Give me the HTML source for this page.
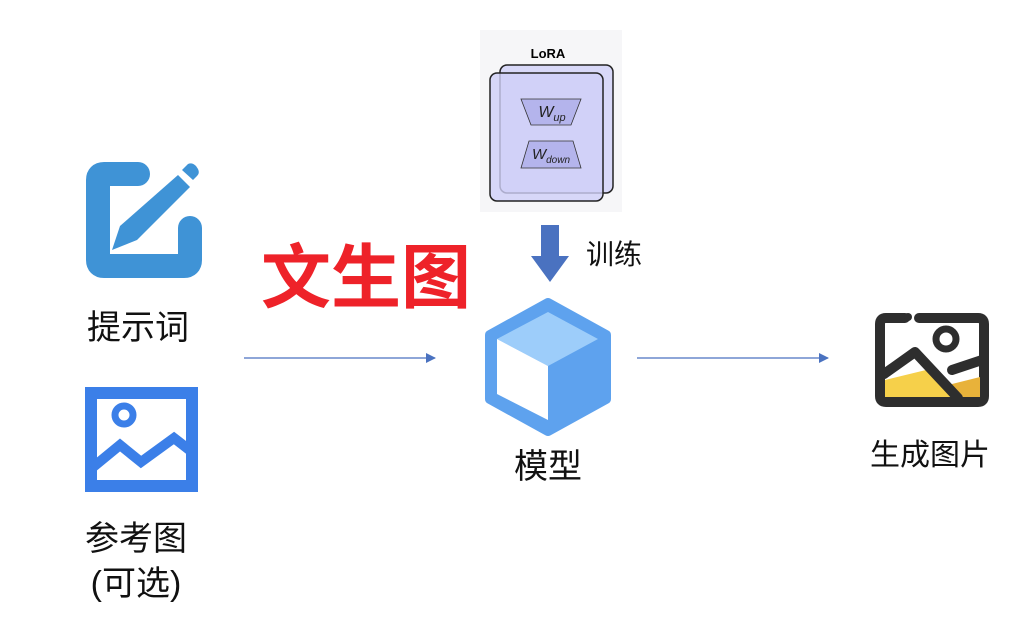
<!DOCTYPE html>
<html><head><meta charset="utf-8"><style>
html,body{margin:0;padding:0;background:#fff;width:1020px;height:625px;overflow:hidden}
svg text{font-family:"Liberation Sans","Noto Sans CJK SC",sans-serif}
</style></head><body>
<svg width="1020" height="625" viewBox="0 0 1020 625" xmlns="http://www.w3.org/2000/svg">
<defs>
<marker id="ah" markerWidth="10" markerHeight="10" refX="9" refY="5" orient="auto" markerUnits="userSpaceOnUse">
<path d="M0,0 L10,5 L0,10 Z" fill="#4a72c0"/></marker>
</defs>
<!-- pencil icon -->
<path d="M138,174 L104,174 Q98,174 98,180 L98,260 Q98,266 104,266 L184,266 Q190,266 190,260 L190,228" fill="none" stroke="#3f93d6" stroke-width="24" stroke-linecap="round" stroke-linejoin="round"/>
<path d="M178,175 L190,187 L137,240 L112,250 L120,226 Z" fill="#3f93d6"/>
<path d="M182,170 L188,164 Q192,162 196,166 L198,169 Q200,173 197,176 L193,180 Z" fill="#3f93d6"/>
<text x="138" y="339" font-size="34" text-anchor="middle" fill="#111">提示词</text>
<!-- image icon -->
<rect x="91" y="393" width="101" height="93" fill="none" stroke="#3b7fe8" stroke-width="12"/>
<circle cx="124" cy="415" r="9" fill="none" stroke="#3b7fe8" stroke-width="7"/>
<path d="M92,468 L120,445 L141,462 L174,438 L192,452" fill="none" stroke="#3b7fe8" stroke-width="10" stroke-linejoin="miter"/>
<text x="136" y="550" font-size="34" text-anchor="middle" fill="#111">参考图</text>
<text x="136" y="595" font-size="34" text-anchor="middle" fill="#111">(可选)</text>
<!-- 文生图 -->
<text x="366" y="302" font-size="70" font-weight="bold" text-anchor="middle" fill="#ee2229">文生图</text>
<!-- arrows -->
<line x1="244" y1="358" x2="435" y2="358" stroke="#4a72c0" stroke-width="1.3" marker-end="url(#ah)"/>
<line x1="637" y1="358" x2="828" y2="358" stroke="#4a72c0" stroke-width="1.3" marker-end="url(#ah)"/>
<!-- LoRA -->
<rect x="480" y="30" width="142" height="182" fill="#f6f6f8"/>
<text x="548" y="58" font-size="13" font-weight="bold" text-anchor="middle" fill="#000">LoRA</text>
<rect x="500" y="65" width="113" height="128" rx="7" fill="#d8d8f8" stroke="#222" stroke-width="1.5"/>
<rect x="490" y="73" width="113" height="128" rx="7" fill="#d0d0f8" fill-opacity="0.8" stroke="#222" stroke-width="1.5"/>
<path d="M521,99 L581,99 L571,125 L531,125 Z" fill="#b4b4ec" stroke="#333" stroke-width="0.8"/>
<text x="552" y="117" font-size="16" font-style="italic" text-anchor="middle" fill="#222" font-family="Liberation Serif,serif">W<tspan font-size="11" dy="4">up</tspan></text>
<path d="M529,141 L573,141 L581,168 L521,168 Z" fill="#b4b4ec" stroke="#333" stroke-width="0.8"/>
<text x="551" y="159" font-size="15" font-style="italic" text-anchor="middle" fill="#222" font-family="Liberation Serif,serif">W<tspan font-size="10" dy="4">down</tspan></text>
<!-- down arrow -->
<path d="M541,225 L559,225 L559,256 L569,256 L550,282 L531,256 L541,256 Z" fill="#4a72c0"/>
<text x="586" y="264" font-size="28" fill="#111">训练</text>
<!-- cube -->
<path d="M548,303 L606,335 L606,399 L548,431 L490,399 L490,335 Z" fill="#5ea2ee" stroke="#5ea2ee" stroke-width="10" stroke-linejoin="round"/>
<path d="M497,339 L548,312 L598,339 L548,366 Z" fill="#9dcdfa"/>
<path d="M497,339 L548,366 L548,420 L497,394 Z" fill="#fff"/>
<text x="548" y="478" font-size="34" text-anchor="middle" fill="#111">模型</text>
<!-- output image icon -->
<path d="M905,318 L886,318 Q880,318 880,324 L880,396 Q880,402 886,402 L978,402 Q984,402 984,396 L984,324 Q984,318 978,318 L919,318" fill="none" stroke="#2e2e2e" stroke-width="10" stroke-linecap="round"/>
<circle cx="908" cy="317" r="4" fill="#2e2e2e"/>
<path d="M885,380 L926,370 L953,397 L885,397 Z" fill="#f6d04a"/>
<path d="M953,397 L944,386 L980,377 L980,397 Z" fill="#e8b23a"/>
<path d="M884,374 L915,352 L958,398" fill="none" stroke="#2e2e2e" stroke-width="10" stroke-linecap="round" stroke-linejoin="round"/>
<path d="M952,370 L982,360" fill="none" stroke="#2e2e2e" stroke-width="10" stroke-linecap="round"/>
<circle cx="946" cy="339" r="10" fill="none" stroke="#2e2e2e" stroke-width="7"/>
<text x="930" y="465" font-size="30" text-anchor="middle" fill="#111">生成图片</text>
</svg>
</body></html>
